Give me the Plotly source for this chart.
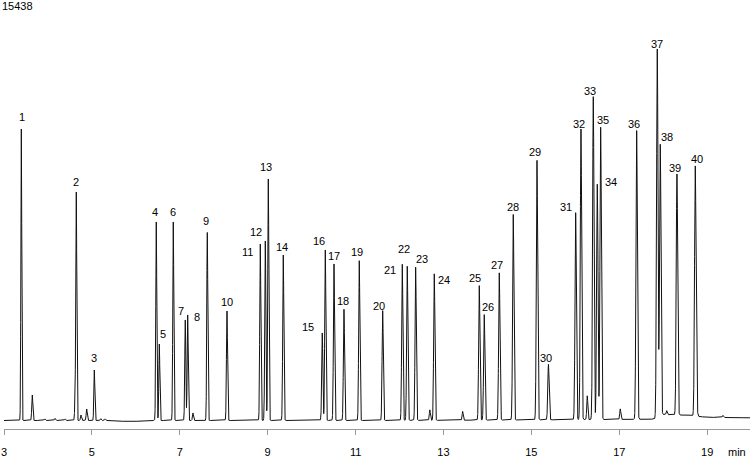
import numpy as np
import plotly.graph_objects as go

# ---- data ----
peak_ids = [str(i) for i in range(1, 41)]
peak_rt = [3.394, 4.645, 5.055, 6.465, 6.534, 6.852, 7.125, 7.180, 7.626, 8.074,
           8.832, 8.946, 9.014, 9.355, 10.242, 10.311, 10.509, 10.736, 11.084, 11.617,
           12.063, 12.176, 12.367, 12.791, 13.815, 13.928, 14.270, 14.588, 15.128, 15.389,
           16.008, 16.129, 16.409, 16.500, 16.577, 17.396, 17.865, 17.933, 18.313, 18.729]
peak_h = [10963, 8447, 1899, 7466, 2877, 7466, 3780, 3968, 7071, 4118,
          6638, 6751, 9083, 6224, 3291, 6413, 5886, 4182, 6010, 4130,
          5875, 5800, 5762, 5510, 5058, 3968, 5536, 7729, 9760, 2087,
          7785, 10930, 12145, 8850, 10993, 10858, 13805, 10159, 9062, 8748]

minor_rt = [3.644, 3.93, 4.16, 4.39, 4.622, 4.752, 4.882, 5.2, 5.3, 7.30,
            12.69, 13.437, 16.272, 17.023, 18.08, 18.745, 19.36]
minor_h = [959, 60, 80, 60, 921, 207, 432, 70, 60, 282,
           395, 330, 895, 395, 150, 900, 80]
minor_w = [0.012, 0.012, 0.012, 0.012, 0.012, 0.012, 0.012, 0.012, 0.012, 0.012,
           0.012, 0.012, 0.012, 0.012, 0.012, 0.02, 0.012]

baseline_t = [3.0, 5.5, 5.7, 6.3, 6.4, 12.0, 16.0, 17.8, 17.9, 18.5, 19.0, 20.0]
baseline_v = [0, 0, -30, -30, 0, 0, 30, 50, 230, 200, 120, 100]

x_ticks = [3, 5, 7, 9, 11, 13, 15, 17, 19]
y_max_label = "15438"

# ---- layout-only label offsets (pixels) ----
label_dx = [1, 0, 0, -1, 3.5, 0, -4, 9, -1, 0,
            -12.5, -9.5, -2, -1, -14, -6, 0, -1, -2, -3.5,
            -12, -3, 6, 10, -4, 3.5, -2, 0, -2, -2,
            -10, -2, -3, 14, 2, -3, 0, 6.5, -2, 1.5]
label_dy = [12, 10, 12, 10, 10, 10, 9, -2, 11, 9,
            -8, 9, 12, 8, 6, 9, 8, 8, 9, 5,
            -6, 17, 8, -6, 8, 8, 8, 7, 8, 6,
            6, 5, 6, 2, 7, 7, 5, 7, 6, 7]

# ---- build signal ----
t = np.arange(3.0, 19.98, 0.001)
t = np.union1d(t, np.array(peak_rt))
signal = np.interp(t, baseline_t, baseline_v).astype(float)
for rt, h in zip(peak_rt, peak_h):
    s = 0.010 + 0.0004 * (rt - 3)
    signal += h * np.exp(-0.5 * ((t - rt) / s) ** 2)
for rt, h, s in zip(minor_rt, minor_h, minor_w):
    signal += h * np.exp(-0.5 * ((t - rt) / s) ** 2)

apex = np.interp(peak_rt, t, signal)

fig = go.Figure()
fig.add_trace(go.Scatter(x=t, y=signal, mode="lines",
                         line=dict(color="#111111", width=1),
                         hoverinfo="skip", showlegend=False))

font = dict(family="Liberation Sans, Arial, sans-serif", size=11, color="#000000")
ann = []
for lab, rt, h, dx, dy in zip(peak_ids, peak_rt, apex, label_dx, label_dy):
    ann.append(dict(x=rt, y=float(h), text=lab, showarrow=False, xanchor="center",
                    yanchor="middle", xshift=dx, yshift=dy, font=font))
ann.append(dict(xref="paper", yref="paper", x=0, y=1, xshift=-4, yshift=4,
                text=y_max_label, showarrow=False, xanchor="left",
                yanchor="middle", font=font))
ann.append(dict(xref="paper", yref="paper", x=1, y=0, xshift=-2, yshift=-23,
                text="min", showarrow=False, xanchor="right",
                yanchor="middle", font=font))

fig.update_layout(
    width=750, height=457,
    margin=dict(l=4, r=0, t=10, b=28),
    paper_bgcolor="white", plot_bgcolor="white",
    annotations=ann,
    xaxis=dict(range=[3, 19.975], tickvals=x_ticks, ticktext=[str(v) for v in x_ticks],
               showgrid=False, zeroline=False, showline=True, linecolor="#999999",
               linewidth=1, ticks="outside", ticklen=5, tickcolor="#999999",
               tickfont=font, ticklabelstandoff=8),
    yaxis=dict(range=[-320, 15438], visible=False, showgrid=False, zeroline=False),
)

fig.write_html("out.html")
